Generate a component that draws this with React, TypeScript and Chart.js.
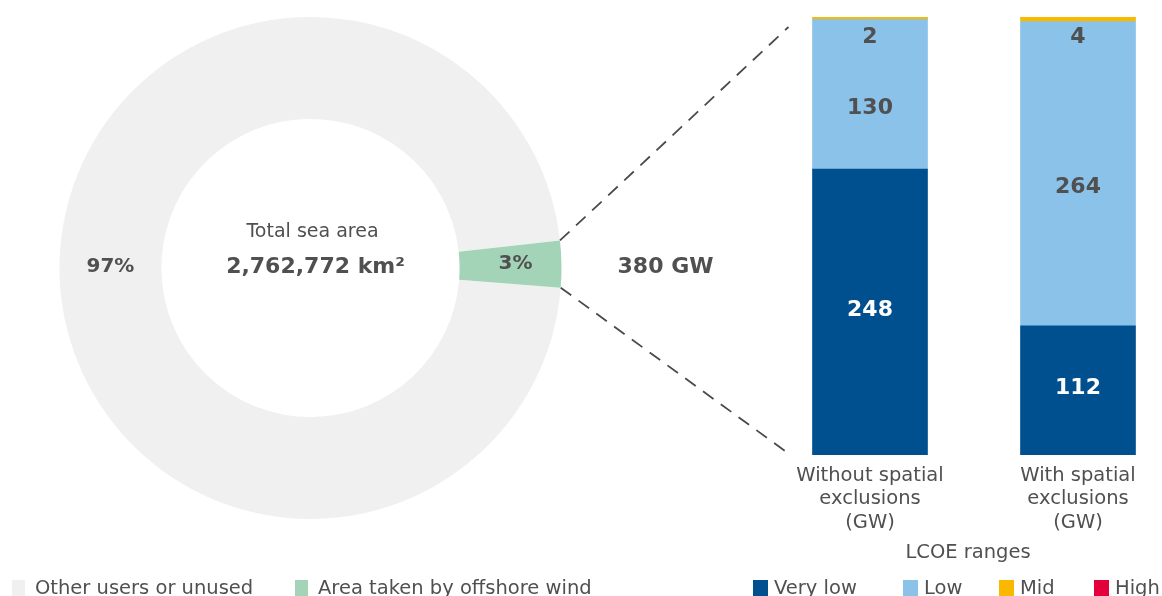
import React, { useEffect, useRef } from 'react';
import { Chart, registerables } from 'chart.js';

Chart.register(...registerables);

// ---- data ----
const areaLabels = ['Other users or unused', 'Area taken by offshore wind'];
const areaShares = [97, 3];
const areaColors = ['#f0f0f0', '#a3d4b8'];
const areaTitle = 'Total sea area';
const areaTotal = '2,762,772 km²';
const potentialLabel = '380 GW';

const scenarioLabels = [
  ['Without spatial', 'exclusions', '(GW)'],
  ['With spatial', 'exclusions', '(GW)'],
];
const lcoeRanges = ['Very low', 'Low', 'Mid', 'High'];
const veryLowGW = [248, 112];
const lowGW = [130, 264];
const midGW = [2, 4];
const highGW = [0, 0];
const lcoeColors = ['#00508f', '#8bc2ea', '#fbb800', '#e4003a'];
const legendTitle = 'LCOE ranges';
const axisMax = 380;

// ---- style ----
const FONT = "'DejaVu Sans', sans-serif";
const TEXT = '#505050';

export default function App() {
  const dRef = useRef<HTMLCanvasElement>(null);
  const bRef = useRef<HTMLCanvasElement>(null);

  useEffect(() => {
    const shared: any = {};

    const doughnutText = {
      id: 'doughnutText',
      afterDraw(chart: any) {
        const ctx = chart.ctx;
        const meta = chart.getDatasetMeta(0);
        ctx.save();
        ctx.fillStyle = TEXT;
        ctx.textAlign = 'center';
        ctx.textBaseline = 'middle';
        meta.data.forEach((arc: any, i: number) => {
          const p = arc.getCenterPoint();
          ctx.font = `bold 20px ${FONT}`;
          ctx.fillText(areaShares[i] + '%', p.x + (i === 1 ? 5 : 0), p.y - (i === 0 ? 4 : 1));
        });
        const c = meta.data[0];
        ctx.font = `19px ${FONT}`;
        ctx.fillText(areaTitle, c.x + 2, c.y - 36);
        ctx.font = `bold 22px ${FONT}`;
        ctx.fillText(areaTotal, c.x + 5, c.y - 1);
        // legend
        const items = [12, 295];
        ctx.textAlign = 'left';
        ctx.font = `19.5px ${FONT}`;
        areaLabels.forEach((lab, i) => {
          ctx.fillStyle = areaColors[i];
          ctx.fillRect(items[i], 580, 13, 16);
          ctx.fillStyle = TEXT;
          ctx.fillText(lab, items[i] + 23, 589);
        });
        ctx.restore();
      },
    };

    const doughnut = new Chart(dRef.current!, {
      type: 'doughnut',
      data: {
        labels: areaLabels,
        datasets: [
          {
            data: areaShares,
            backgroundColor: areaColors,
            borderWidth: 0,
            hoverOffset: 0,
          },
        ],
      },
      options: {
        responsive: false,
        animation: false,
        events: [],
        rotation: 94.5,
        cutout: '59.4%',
        layout: { padding: { left: 59, right: 600, top: 17, bottom: 77 } },
        plugins: { legend: { display: false }, tooltip: { enabled: false } },
      },
      plugins: [doughnutText],
    } as any);
    shared.doughnut = doughnut;

    const seriesData = [veryLowGW, lowGW, midGW, highGW];

    const barText = {
      id: 'barText',
      afterDatasetsDraw(chart: any) {
        const ctx = chart.ctx;
        ctx.save();
        ctx.textAlign = 'center';
        ctx.textBaseline = 'middle';
        ctx.font = `bold 22px ${FONT}`;
        const yScale = chart.scales.y;
        seriesData.forEach((vals, di) => {
          const meta = chart.getDatasetMeta(di);
          meta.data.forEach((el: any, j: number) => {
            const v = vals[j];
            if (!v) return;
            const { x, y, base } = el.getProps(['x', 'y', 'base'], true);
            let ty = (y + base) / 2;
            if (di === 0) {
              ctx.fillStyle = '#ffffff';
              ty = ty - 2;
            } else if (di === 1) {
              ctx.fillStyle = TEXT;
              ty = ty + 14;
            } else {
              ctx.fillStyle = TEXT;
              const total = seriesData.reduce((s, arr) => s + arr[j], 0);
              ty = yScale.getPixelForValue(total) + 20;
            }
            ctx.fillText(String(v), x, ty);
          });
        });
        ctx.restore();
      },
      afterDraw(chart: any) {
        const ctx = chart.ctx;
        const d = shared.doughnut;
        const yScale = chart.scales.y;
        ctx.save();
        if (d) {
          const arc = d.getDatasetMeta(0).data[1];
          const { x, y, startAngle, endAngle, outerRadius } = arc.getProps(
            ['x', 'y', 'startAngle', 'endAngle', 'outerRadius'],
            true
          );
          const bar0 = chart.getDatasetMeta(0).data[0];
          const { x: bx, width: bw } = bar0.getProps(['x', 'width'], true);
          const left = bx - bw / 2;
          const total0 = seriesData.reduce((s, arr) => s + arr[0], 0);
          const topY = yScale.getPixelForValue(total0);
          const botY = yScale.getPixelForValue(0);
          const x1 = x + outerRadius * Math.cos(startAngle);
          const y1 = y + outerRadius * Math.sin(startAngle);
          const x2 = x + outerRadius * Math.cos(endAngle);
          const y2 = y + outerRadius * Math.sin(endAngle);
          ctx.strokeStyle = '#4a4a4a';
          ctx.lineWidth = 1.8;
          ctx.setLineDash([13, 9]);
          ctx.beginPath();
          ctx.moveTo(x1, y1);
          ctx.lineTo(left - 24, topY + 10);
          ctx.moveTo(x2, y2);
          ctx.lineTo(left - 22, botY);
          ctx.stroke();
          ctx.setLineDash([]);
          ctx.fillStyle = TEXT;
          ctx.textAlign = 'center';
          ctx.textBaseline = 'middle';
          ctx.font = `bold 22px ${FONT}`;
          ctx.fillText(potentialLabel, x + outerRadius + 104, y - 1);
        }
        // LCOE legend
        ctx.fillStyle = TEXT;
        ctx.textAlign = 'center';
        ctx.textBaseline = 'middle';
        ctx.font = `19.5px ${FONT}`;
        ctx.fillText(legendTitle, 968, 553);
        const items = [753, 903, 999, 1094];
        ctx.textAlign = 'left';
        lcoeRanges.forEach((lab, i) => {
          ctx.fillStyle = lcoeColors[i];
          ctx.fillRect(items[i], 580, 15, 16);
          ctx.fillStyle = TEXT;
          ctx.fillText(lab, items[i] + 21, 589);
        });
        ctx.restore();
      },
    };

    const bar = new Chart(bRef.current!, {
      type: 'bar',
      data: {
        labels: scenarioLabels,
        datasets: lcoeRanges.map((lab, i) => ({
          label: lab,
          data: seriesData[i],
          backgroundColor: lcoeColors[i],
          borderWidth: 0,
          barThickness: 115,
        })),
      },
      options: {
        responsive: false,
        animation: false,
        events: [],
        layout: { padding: { left: 766, right: 8, top: 17, bottom: 52.8 } },
        scales: {
          x: {
            stacked: true,
            grid: { display: false, drawTicks: false },
            border: { display: false },
            ticks: {
              color: TEXT,
              font: { family: FONT, size: 19.5, lineHeight: 1.2 },
              padding: 9,
              maxRotation: 0,
              autoSkip: false,
            },
          },
          y: { stacked: true, display: false, min: 0, max: axisMax },
        },
        plugins: { legend: { display: false }, tooltip: { enabled: false } },
      },
      plugins: [barText],
    } as any);

    return () => {
      bar.destroy();
      doughnut.destroy();
    };
  }, []);

  return (
    <div
      style={{
        position: 'fixed',
        left: 0,
        top: 0,
        width: 1162,
        height: 596,
        overflow: 'hidden',
        background: '#ffffff',
      }}
    >
      <canvas ref={dRef} width={1162} height={596} style={{ position: 'absolute', left: 0, top: 0 }} />
      <canvas ref={bRef} width={1190} height={596} style={{ position: 'absolute', left: 0, top: 0 }} />
    </div>
  );
}
